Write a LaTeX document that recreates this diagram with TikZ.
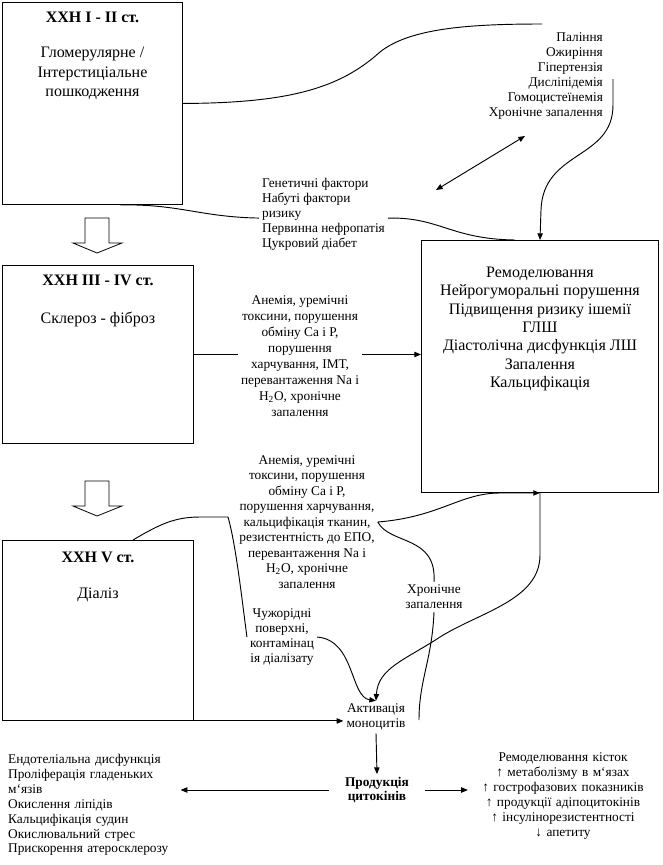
\documentclass[tikz,border=0pt]{standalone}
\usepackage{fontspec}
\setmainfont{Liberation Serif}
\usetikzlibrary{arrows.meta,positioning,calc}

\begin{document}
\begin{tikzpicture}[x=0.75pt, y=-0.75pt, line width=0.7pt,
    >={Triangle[length=5pt,width=4pt]},
    stage/.style={draw, anchor=north west, inner sep=0pt},
    head/.style={font=\fontsize{12}{14}\selectfont\bfseries},
    big/.style={font=\fontsize{12}{13.8}\selectfont, align=center},
    small/.style={font=\fontsize{10}{11.2}\selectfont, inner sep=2pt},
    hollow/.style={draw, line width=0.6pt}]
  \useasboundingbox (0,0) rectangle (662,865);

  % stages of CKD and heart
  \node[stage, minimum width=135pt, minimum height=151.5pt] (ckd1) at (2,2) {};
  \node[stage, minimum width=143.25pt, minimum height=133.5pt] (ckd3) at (2,265) {};
  \node[stage, minimum width=143.25pt, minimum height=135pt] (ckd5) at (2,540) {};
  \node[stage, minimum width=177.75pt, minimum height=189pt] (heart) at (421,240) {};

  \node[head, below=4pt of ckd1.north] (ckd1t) {ХХН I - II ст.};
  \node[big, font=\fontsize{12}{14.5}\selectfont, below=11pt of ckd1t] (ckd1b) {Гломерулярне /\\Інтерстиціальне\\пошкодження};
  \node[head, below=4pt of ckd3.north] (ckd3t) {ХХН III - IV ст.};
  \node[big, below=12pt of ckd3t] (ckd3b) {Склероз - фіброз};
  \node[head, below=5pt of ckd5.north] (ckd5t) {ХХН V ст.};
  \node[big, below=12pt of ckd5t] (ckd5b) {Діаліз};
  \node[big, below=16.5pt of heart.north] (heartb) {Ремоделювання\\Нейрогуморальні порушення\\Підвищення ризику ішемії\\ГЛШ\\Діастолічна дисфункція ЛШ\\Запалення\\Кальцифікація};

  \foreach \y in {218,481}
    \draw[hollow] (85,\y) -- ++(24,0) -- ++(0,25) -- ++(13,0) -- ++(-25,10) -- ++(-24,-10) -- ++(12,0) -- cycle;

  % factors
  \node[small, align=right, anchor=north east] (risk) at (606,30) {Паління\\Ожиріння\\Гіпертензія\\Дисліпідемія\\Гомоцистеїнемія\\Хронічне запалення};
  \node[small, align=left, anchor=north west] (gen) at (259,175) {Генетичні фактори\\Набуті фактори\\ризику\\Первинна нефропатія\\Цукровий діабет};
  \node[small, font=\fontsize{10}{12}\selectfont, align=center] (mid) at (300,356) {Анемія, уремічні\\токсини, порушення\\обміну Са і Р,\\порушення\\харчування, ІМТ,\\перевантаження Na і\\H\textsubscript{2}O, хронічне\\запалення};
  \node[small, font=\fontsize{10}{11.6}\selectfont, align=center] (late) at (307,522) {Анемія, уремічні\\токсини, порушення\\обміну Са і Р,\\порушення харчування,\\кальцифікація тканин,\\резистентність до ЕПО,\\перевантаження Na і\\H\textsubscript{2}O, хронічне\\запалення};
  \node[small, align=center] (alien) at (282,637) {Чужорідні\\поверхні,\\контамінац\\ія діалізату};
  \node[small, align=center] (chron) at (434,597) {Хронічне\\запалення};
  \node[small, align=center] (act) at (376,717) {Активація\\моноцитів};
  \node[small, font=\fontsize{10}{10.5}\selectfont\bfseries, align=center, inner xsep=12pt] (cyto) at (377,790) {Продукція\\цитокінів};
  \node[small, align=left, anchor=north west, text width=127pt] (vessel) at (5,751) {Ендотеліальна дисфункція\\Проліферація гладеньких\\м\symbol{96}язів\\Окислення ліпідів\\Кальцифікація судин\\Окислювальний стрес\\Прискорення атеросклерозу};
  \node[small, align=center, text width=138pt] (bone) at (563,796) {Ремоделювання кісток\\↑ метаболізму в м\symbol{96}язах\\↑ гострофазових показників\\↑ продукції адіпоцитокінів\\↑ інсулінорезистентності\\↓ апетиту};

  \coordinate (riskin) at (542,24);
  \coordinate (riskout) at (613,79);
  \coordinate (dblA) at (525,136);
  \coordinate (dblB) at (436,190);
  \coordinate (chronend) at (419,720);

  % connectors
  \draw (ckd1.east) .. controls (290,103) and (340,88) .. (380,52) .. controls (410,28) and (470,24) .. (riskin);
  \draw[->] (riskout) -- (613,105) .. controls (613,160) and (543,150) .. (541,210) -- (heart.north);
  \draw[<->] (dblA) -- (dblB);
  \draw ([xshift=21pt]ckd1.south) .. controls (180,204) and (200,217) .. ([yshift=-3pt]gen.west);
  \draw ([yshift=-3pt]gen.east) .. controls (440,217) and (450,239) .. ($(heart.north)+(-25,0)$);
  \draw (ckd3.east) -- (mid.west |- ckd3.east);
  \draw[->] (mid.east |- ckd3.east) -- (heart.west |- ckd3.east);
  \draw ($(ckd5.north)+(35,0)$) .. controls (160,524) and (175,517) .. (200,517) -- (228,517) .. controls (236,545) and (242,600) .. (alien.west);
  \draw[->] (alien.east) .. controls (355,640) and (350,697) .. (act.north);
  \draw[->] (late.east) .. controls (440,517) and (460,493) .. (500,493) -- (heart.south);
  \draw (late.east) .. controls (390,545) and (437,535) .. (chron.north);
  \draw (chron.south) .. controls (432,660) and (419,680) .. (chronend);
  \draw[->] (heart.south) -- (540,555) .. controls (540,600) and (480,612) .. (440,637) .. controls (405,660) and (378,668) .. (act.north);
  \draw[->] (ckd5.south east) -- (act.west |- ckd5.south east);
  \draw[->] (act.south) -- (cyto.north);
  \draw[->] (cyto.west) -- (vessel.east |- cyto.west);
  \draw[->] (cyto.east) -- (bone.west |- cyto.east);
\end{tikzpicture}
\end{document}
